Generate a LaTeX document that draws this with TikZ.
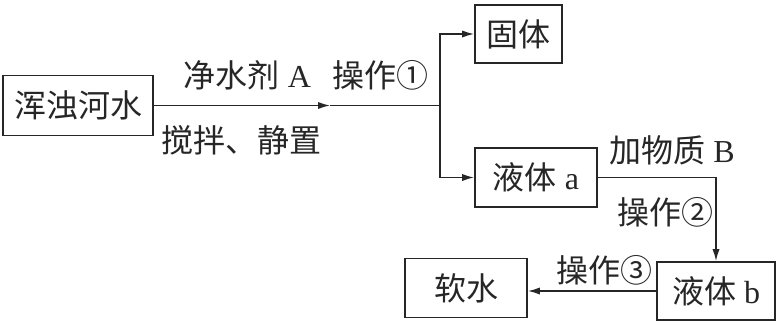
\documentclass[tikz,border=0pt]{standalone}
\usepackage{fontspec}
\setmainfont{Liberation Serif}
\newfontfamily\cjk{Noto Sans CJK SC}
\usetikzlibrary{arrows.meta, positioning}

\begin{document}
\begin{tikzpicture}[
    x=0.5pt, y=-0.5pt,
    box/.style={draw, rectangle, line width=0.9pt, inner sep=0pt, font=\fontsize{16}{19}\selectfont},
    flow/.style={line width=0.7pt},
    flowarrow/.style={flow, -{Latex[length=6pt, width=3.6pt]}},
    steplabel/.style={font=\fontsize{16}{19}\selectfont, inner sep=0pt},
]
  \useasboundingbox (0,0) rectangle (780,322);
  \begin{scope}[draw=black!85, text=black!85]
  % boxes
  \node[box, minimum width=75pt, minimum height=30pt] (river) at (78,105.5) {\cjk 浑浊河水};
  \node[box, minimum width=43.5pt, minimum height=29pt] (solid) at (518.5,34) {\cjk 固体};
  \node[box, minimum width=61pt, minimum height=29.5pt] (liqa) at (536,177.5) {{\cjk 液体} a};
  \node[box, minimum width=59pt, minimum height=29pt] (liqb) at (716,291) {{\cjk 液体} b};
  \node[box, minimum width=61pt, minimum height=29.5pt] (soft) at (466,288) {\cjk 软水};

  % connectors
  \coordinate (tip) at (330,105.5);
  \coordinate (split) at (440,105.5);
  \draw[flowarrow] (river.east) -- (tip);
  \draw[flow] (tip) -- (split);
  \draw[flowarrow] (split) |- (solid.west);
  \draw[flowarrow] (split) |- (liqa.west);
  \draw[flowarrow] (liqa.east) -| (liqb.north);
  \draw[flowarrow] (liqb.west) -- (liqb.west -| soft.east);

  % labels
  \node[steplabel] (opone) at (306,75) {{\cjk 净水剂} A\enspace\,{\cjk 操作①}};
  \node[steplabel] (stir) at (241,140) {\cjk 搅拌、静置};
  \node[steplabel] (addb) at (672,150) {{\cjk 加物质} B};
  \node[steplabel] (optwo) at (665,212) {\cjk 操作②};
  \node[steplabel] (opthree) at (604,270) {\cjk 操作③};
  \end{scope}
\end{tikzpicture}
\end{document}
